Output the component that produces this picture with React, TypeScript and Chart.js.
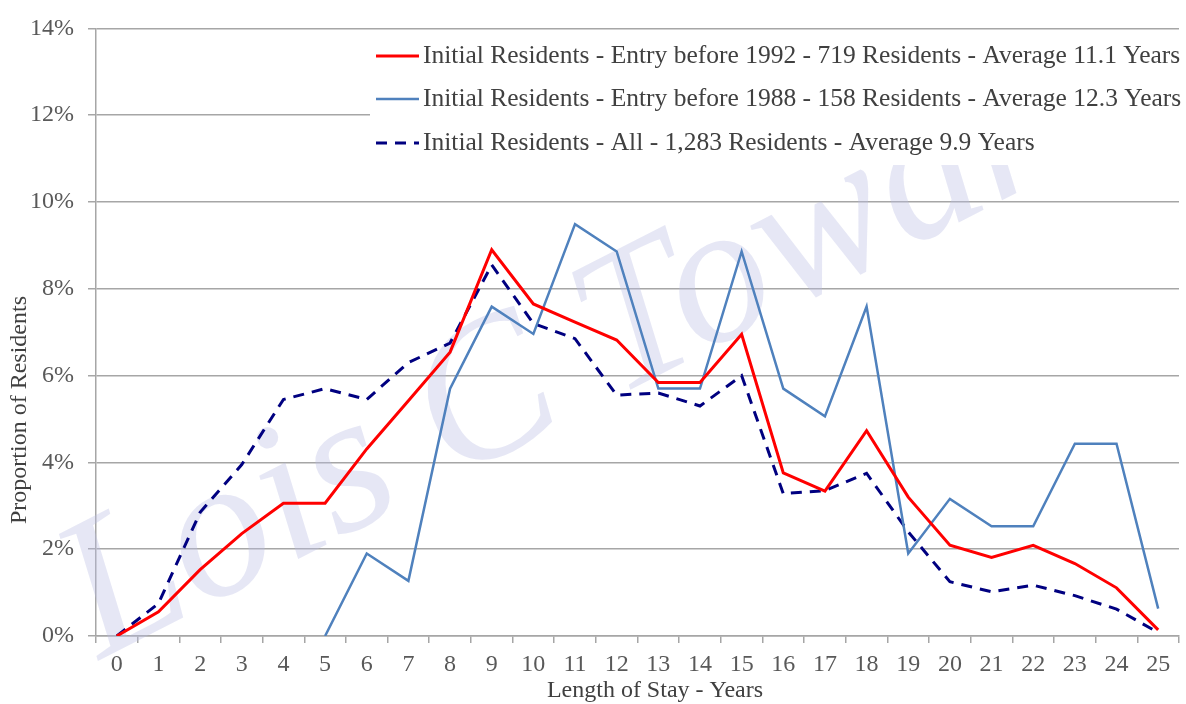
import React, { useEffect, useRef } from "react";
import { Chart, registerables } from "chart.js";

Chart.register(...registerables);

const categories = ["0","1","2","3","4","5","6","7","8","9","10","11","12","13","14","15","16","17","18","19","20","21","22","23","24","25"];
const entryBefore1992 = [0, 0.56, 1.53, 2.36, 3.06, 3.06, 4.31, 5.42, 6.54, 8.90, 7.65, 7.23, 6.82, 5.84, 5.84, 6.95, 3.76, 3.34, 4.73, 3.20, 2.09, 1.81, 2.09, 1.67, 1.11, 0.14];
const entryBefore1988 = [null, null, null, null, null, 0, 1.90, 1.27, 5.70, 7.59, 6.96, 9.49, 8.86, 5.70, 5.70, 8.86, 5.70, 5.06, 7.59, 1.90, 3.16, 2.53, 2.53, 4.43, 4.43, 0.63];
const allResidents = [0, 0.75, 2.85, 3.95, 5.45, 5.70, 5.45, 6.30, 6.75, 8.55, 7.20, 6.85, 5.55, 5.60, 5.30, 6.00, 3.28, 3.35, 3.75, 2.40, 1.25, 1.02, 1.17, 0.93, 0.62, 0.08];
const seriesLabels = [
  "Initial Residents - Entry before 1992 - 719 Residents - Average 11.1 Years",
  "Initial Residents - Entry before 1988 - 158 Residents - Average 12.3 Years",
  "Initial Residents - All - 1,283 Residents - Average 9.9 Years",
];
const yTicks = [0, 2, 4, 6, 8, 10, 12, 14];
const xTitle = "Length of Stay - Years";
const yTitle = "Proportion of Residents";
const watermark = "Lois C Towart";

const FONT = "'Liberation Serif', 'DejaVu Serif', serif";
const colors = ["#FF0000", "#4F81BD", "#000080"];
const dashes: number[][] = [[], [], [11, 8]];
const widths = [3, 2.5, 3];

export default function App() {
  const ref = useRef<HTMLCanvasElement | null>(null);
  useEffect(() => {
    if (!ref.current) return;
    const extras = {
      id: "extras",
      beforeDatasetsDraw(chart: any) {
        const ctx = chart.ctx;
        ctx.save();
        ctx.translate(100, 660);
        ctx.rotate(-27 * Math.PI / 180);
        ctx.font = `italic 200px ${FONT}`;
        ctx.fillStyle = "rgba(185,188,228,0.36)";
        ctx.textBaseline = "alphabetic";
        ctx.fillText(watermark, 0, 0);
        ctx.restore();
      },
      afterDatasetsDraw(chart: any) {
        const ctx = chart.ctx;
        ctx.save();
        ctx.fillStyle = "#FFFFFF";
        ctx.fillRect(370, 33, 816, 132);
        const rows = [56, 99, 143];
        for (let i = 0; i < 3; i++) {
          ctx.beginPath();
          ctx.strokeStyle = colors[i];
          ctx.lineWidth = widths[i];
          ctx.setLineDash(dashes[i]);
          ctx.moveTo(376, rows[i]);
          ctx.lineTo(419, rows[i]);
          ctx.stroke();
          ctx.setLineDash([]);
          ctx.fillStyle = "#404040";
          ctx.font = `25.5px ${FONT}`;
          ctx.textBaseline = "middle";
          ctx.textAlign = "left";
          ctx.fillText(seriesLabels[i], 423, rows[i]);
        }
        ctx.fillStyle = "#404040";
        ctx.font = `24px ${FONT}`;
        ctx.textAlign = "center";
        ctx.textBaseline = "middle";
        ctx.fillText(xTitle, 655, 691);
        ctx.translate(20, 410);
        ctx.rotate(-Math.PI / 2);
        ctx.fillText(yTitle, 0, 0);
        ctx.restore();
      },
    };
    const chart = new Chart(ref.current, {
      type: "line",
      data: {
        labels: categories,
        datasets: [
          { label: seriesLabels[0], data: entryBefore1992, borderColor: colors[0], borderWidth: widths[0], pointRadius: 0, tension: 0, fill: false },
          { label: seriesLabels[1], data: entryBefore1988 as any, borderColor: colors[1], borderWidth: widths[1], pointRadius: 0, tension: 0, fill: false },
          { label: seriesLabels[2], data: allResidents, borderColor: colors[2], borderWidth: widths[2], borderDash: dashes[2], pointRadius: 0, tension: 0, fill: false },
        ],
      },
      options: {
        animation: false,
        responsive: true,
        maintainAspectRatio: false,
        layout: { padding: { top: 25, right: 7, left: 0, bottom: 0 } },
        plugins: { legend: { display: false }, tooltip: { enabled: false } },
        scales: {
          x: {
            type: "category",
            offset: true,
            afterFit: (s: any) => { s.height = 68; },
            grid: { offset: true, drawOnChartArea: false, drawTicks: true, tickLength: 7, color: "#A6A6A6", lineWidth: 1.5 },
            border: { color: "#A6A6A6", width: 1.5 },
            ticks: { color: "#595959", font: { family: FONT, size: 24 }, padding: 7, autoSkip: false, maxRotation: 0 },
          },
          y: {
            min: 0,
            max: 14,
            afterFit: (s: any) => { s.width = 96; },
            afterBuildTicks: (s: any) => { s.ticks = yTicks.map((v) => ({ value: v })); },
            grid: { color: "#A6A6A6", lineWidth: 1.5, tickLength: 8 },
            border: { color: "#A6A6A6", width: 1.5 },
            ticks: { color: "#595959", font: { family: FONT, size: 24 }, padding: 14, callback: (v: any) => `${v}%` },
          },
        },
      },
      plugins: [extras],
    } as any);
    return () => chart.destroy();
  }, []);
  return (
    <div style={{ position: "absolute", left: 0, top: 0, width: 1186, height: 704 }}>
      <canvas ref={ref} />
    </div>
  );
}
